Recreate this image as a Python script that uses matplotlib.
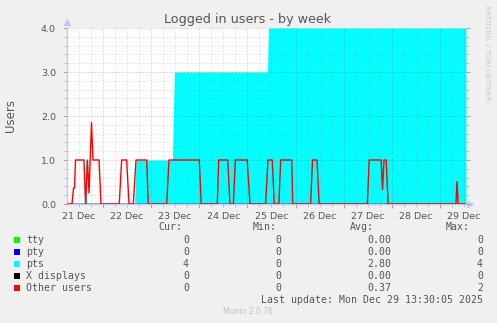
import matplotlib
matplotlib.use("Agg")
import matplotlib.pyplot as plt
from matplotlib.patches import Rectangle
from matplotlib.ticker import MultipleLocator

# ---- data (x in hours since 2025-12-21 00:00) ----
x_start, x_end = 6.05, 205.0

pts_hours = [6.05, 15.0, 15.3, 15.8, 16.0, 39.7, 40.45, 58.6, 59.6, 106.0, 106.5, 205.0]
pts_users = [0, 0, 1, 1, 0, 0, 1, 1, 3, 3, 4, 4]

other_hours = [6.05, 8.55, 9.3, 9.8, 10.3, 14.5, 15.3, 16.27, 17.02, 18.27, 19.01, 22.0,
               23.0, 32.1, 33.3, 35.8, 36.96, 39.1, 40.45, 45.8, 46.6, 55.75, 56.9, 72.0,
               73.0, 81.0, 81.7, 86.2, 87.3, 89.0, 90.0, 95.9, 97.3, 105.1, 106.25, 108.4,
               109.4, 111.7, 112.6, 118.1, 118.6, 127.5, 128.5, 130.7, 131.8, 155.8, 156.75,
               162.7, 163.4, 164.1, 165.2, 166.2, 200.0, 200.5, 201.1, 205.0]
other_users = [0, 0, 0.36, 0.36, 1, 1, 0, 1, 0.25, 1.85, 1, 1,
               0, 0, 1, 1, 0, 0, 1, 1, 0, 0, 1, 1,
               0, 0, 1, 1, 0, 0, 1, 1, 0, 0, 1, 1,
               0, 0, 1, 1, 0, 0, 1, 1, 0, 0, 1,
               1, 0.33, 1, 1, 0, 0, 0.51, 0, 0]

zero_hours = [6.05, 205.0]
zero_users = [0, 0]

day_label_hours = [12, 36, 60, 84, 108, 132, 156, 180, 204]
day_labels = ['21 Dec', '22 Dec', '23 Dec', '24 Dec', '25 Dec', '26 Dec', '27 Dec', '28 Dec', '29 Dec']
y_ticks = [0, 1, 2, 3, 4]
y_tick_labels = ['0.0', '1.0', '2.0', '3.0', '4.0']

series_names = ['tty', 'pty', 'pts', 'X displays', 'Other users']
series_colors = ['#00FF00', '#0000FF', '#00FFFF', '#000000', '#FF0000']
cur_vals = ['0', '0', '4', '0', '0']
min_vals = ['0', '0', '0', '0', '0']
avg_vals = ['0.00', '0.00', '2.80', '0.00', '0.37']
max_vals = ['0', '0', '4', '0', '2']
last_update = 'Last update: Mon Dec 29 13:30:05 2025'

W, H = 497, 323
TXT = '#555555'

fig = plt.figure(figsize=(W / 100, H / 100), dpi=100, facecolor='#F0F0F0')
ax = fig.add_axes([67 / W, 1 - 204 / H, 399 / W, 176 / H])
ax.set_facecolor('white')

ax.fill_between(pts_hours, pts_users, color='#00FFFF', lw=0, zorder=1)
ax.plot(zero_hours, zero_users, color='#00FF00', lw=1, zorder=2)
ax.plot(zero_hours, zero_users, color='#0000FF', lw=1, zorder=2)
ax.plot(zero_hours, zero_users, color='#000000', lw=1, zorder=2)
ax.plot(other_hours, other_users, color='#FF0000', lw=1.0, zorder=4)

ax.set_xlim(x_start, x_end)
ax.set_ylim(0, 4)

ax.xaxis.set_major_locator(MultipleLocator(24))
ax.xaxis.set_minor_locator(MultipleLocator(6))
ax.set_xticklabels([])
ax.set_yticks(y_ticks)
ax.set_yticklabels(y_tick_labels)
ax.yaxis.set_minor_locator(MultipleLocator(0.2))

ax.set_axisbelow(False)
ax.grid(which='major', color='#821E1E', alpha=0.3, lw=0.72, linestyle=(0, (1, 2)), zorder=3)
ax.grid(which='minor', color='#8C8C8C', alpha=0.35, lw=0.72, linestyle=(0, (1, 2)), zorder=3)

ax.tick_params(which='major', length=3, width=0.7, color='#D89090', labelsize=6.8,
               labelcolor=TXT, pad=5, right=True)
ax.tick_params(which='minor', length=2, width=0.7, color='#C0C0C0', right=True)

for h, lab in zip(day_label_hours, day_labels):
    ax.text(h, -0.045, lab, transform=ax.get_xaxis_transform(), ha='center', va='top',
            fontsize=6.8, color=TXT)

for s in ['top', 'right']:
    ax.spines[s].set_visible(False)
for s in ['left', 'bottom']:
    ax.spines[s].set_color('#C8C8F0')
    ax.spines[s].set_linewidth(1.0)

ax.plot([0], [1.035], marker='^', ms=4, color='#C8C8F8', transform=ax.transAxes, clip_on=False)
ax.plot([1.01], [0], marker='>', ms=4, color='#C8C8F8', transform=ax.transAxes, clip_on=False)

fig.text(248 / W, 1 - 23 / H, 'Logged in users - by week', ha='center', va='baseline',
         fontsize=9.2, color=TXT)
fig.text(10.5 / W, 1 - 115 / H, 'Users', rotation=90, ha='center', va='center',
         fontsize=8.5, color=TXT)
fig.text(487.5 / W, 1 - 5 / H, 'RRDTOOL / TOBI OETIKER', rotation=270, ha='center', va='top',
         fontsize=5.4, color='#C8C8C8')

mono = dict(family='DejaVu Sans Mono', fontsize=7.15, color=TXT, va='center')
fig.text(182 / W, 1 - 227 / H, 'Cur:', ha='right', **mono)
fig.text(277 / W, 1 - 227 / H, 'Min:', ha='right', **mono)
fig.text(374 / W, 1 - 227 / H, 'Avg:', ha='right', **mono)
fig.text(470 / W, 1 - 227 / H, 'Max:', ha='right', **mono)
for i, name in enumerate(series_names):
    yc = 240 + 12 * i
    fig.patches.append(Rectangle((14 / W, 1 - (yc + 3) / H), 6 / W, 6 / H,
                                 transform=fig.transFigure, color=series_colors[i], lw=0))
    fig.text(26 / W, 1 - yc / H, name, ha='left', **mono)
    fig.text(189 / W, 1 - yc / H, cur_vals[i], ha='right', **mono)
    fig.text(281 / W, 1 - yc / H, min_vals[i], ha='right', **mono)
    fig.text(391 / W, 1 - yc / H, avg_vals[i], ha='right', **mono)
    fig.text(483 / W, 1 - yc / H, max_vals[i], ha='right', **mono)
fig.text(483 / W, 1 - 300 / H, last_update, ha='right', **mono)
fig.text(248 / W, 1 - 312 / H, 'Munin 2.0.76', ha='center', va='center', fontsize=5.5,
         color='#C0C0C0')

fig.savefig('out.png', dpi=100, facecolor=fig.get_facecolor())
